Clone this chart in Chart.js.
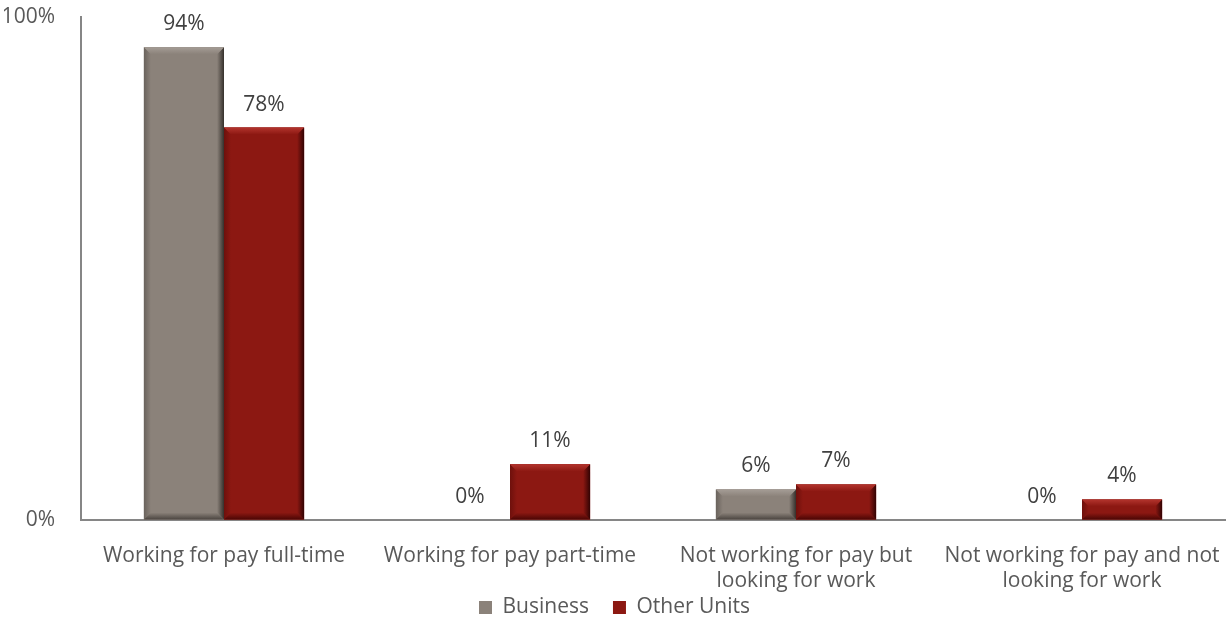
<!DOCTYPE html>
<html>
<head>
<meta charset="utf-8">
<script src="https://cdn.jsdelivr.net/npm/chart.js@4/dist/chart.umd.min.js"></script>
<style>
html,body{margin:0;padding:0;background:#fff;}
#wrap{width:1229px;height:643px;position:relative;}
</style>
</head>
<body>
<div id="wrap"><canvas id="c" width="1229" height="643"></canvas></div>
<script>
const categories = [
  "Working for pay full-time",
  "Working for pay part-time",
  ["Not working for pay but", "looking for work"],
  ["Not working for pay and not", "looking for work"]
];
const businessValues = [94, 0, 6, 0];
const otherUnitsValues = [78, 11, 7, 4];
const yTicks = [0, 100];

const FONT = "'Open Sans', 'Liberation Sans', sans-serif";
const TEXT = '#595959';
const FS = 21;

const palettes = [
  {base:'#8b827a', left:'#6a635d', right:'#35302c', top:'#a59d96', bottom:'#4a443f'},
  {base:'#8c1812', left:'#6e100c', right:'#320303', top:'#b3342d', bottom:'#4a0604'}
];

const bevelPlugin = {
  id:'bevel',
  afterDatasetsDraw(chart){
    const ctx = chart.ctx;
    chart.data.datasets.forEach((ds, di)=>{
      const meta = chart.getDatasetMeta(di);
      const p = palettes[di];
      meta.data.forEach(el=>{
        const {x, y, base, width} = el.getProps(['x','y','base','width'], true);
        const l = x - width/2, r = x + width/2, t = y, b = base;
        const h = b - t;
        if (h < 1) return;
        const bv = Math.min(7, h/3);
        ctx.save();
        ctx.fillStyle = p.base;
        ctx.fillRect(l, t, width, h);
        let g = ctx.createLinearGradient(l,0,l+bv,0);
        g.addColorStop(0, p.left); g.addColorStop(1, p.base);
        ctx.fillStyle = g;
        ctx.beginPath(); ctx.moveTo(l,t); ctx.lineTo(l+bv,t+bv); ctx.lineTo(l+bv,b-bv); ctx.lineTo(l,b); ctx.closePath(); ctx.fill();
        g = ctx.createLinearGradient(r-bv,0,r,0);
        g.addColorStop(0, p.base); g.addColorStop(1, p.right);
        ctx.fillStyle = g;
        ctx.beginPath(); ctx.moveTo(r,t); ctx.lineTo(r-bv,t+bv); ctx.lineTo(r-bv,b-bv); ctx.lineTo(r,b); ctx.closePath(); ctx.fill();
        g = ctx.createLinearGradient(0,t,0,t+bv);
        g.addColorStop(0, p.top); g.addColorStop(1, p.base);
        ctx.fillStyle = g;
        ctx.beginPath(); ctx.moveTo(l,t); ctx.lineTo(r,t); ctx.lineTo(r-bv,t+bv); ctx.lineTo(l+bv,t+bv); ctx.closePath(); ctx.fill();
        g = ctx.createLinearGradient(0,b-bv,0,b);
        g.addColorStop(0, p.base); g.addColorStop(1, p.bottom);
        ctx.fillStyle = g;
        ctx.beginPath(); ctx.moveTo(l,b); ctx.lineTo(l+bv,b-bv); ctx.lineTo(r-bv,b-bv); ctx.lineTo(r,b); ctx.closePath(); ctx.fill();
        ctx.restore();
      });
    });
  },
  afterDraw(chart){
    const ctx = chart.ctx;
    ctx.save();
    ctx.font = FS + "px " + FONT;
    ctx.fillStyle = '#404040';
    ctx.textAlign = 'center';
    ctx.textBaseline = 'middle';
    chart.data.datasets.forEach((ds, di)=>{
      const meta = chart.getDatasetMeta(di);
      meta.data.forEach((el, i)=>{
        const {x, y} = el.getProps(['x','y'], true);
        ctx.fillText(ds.data[i] + '%', x, y - 23);
      });
    });
    ctx.restore();
  }
};

new Chart(document.getElementById('c'), {
  type:'bar',
  data:{
    labels: categories,
    datasets:[
      {label:'Business', data: businessValues, backgroundColor: palettes[0].base, borderWidth:0},
      {label:'Other Units', data: otherUnitsValues, backgroundColor: palettes[1].base, borderWidth:0}
    ]
  },
  plugins:[bevelPlugin],
  options:{
    responsive:false,
    animation:false,
    devicePixelRatio:1,
    layout:{padding:{top:0, right:4, left:4, bottom:15}},
    datasets:{bar:{categoryPercentage:0.56, barPercentage:1.0}},
    scales:{
      x:{
        afterFit(scale){
          scale.paddingLeft = 0; scale.paddingRight = 0; scale.height -= 45;
          scale._computeLabelArea = () => undefined;
        },
        grid:{display:false, drawTicks:false},
        border:{display:true, color:'#868686', width:2},
        ticks:{color:TEXT, font:{family:FONT, size:FS, lineHeight:1.2}, padding:24, maxRotation:0, autoSkip:false}
      },
      y:{
        min:0, max:100,
        afterBuildTicks(scale){ scale.ticks = yTicks.map(v=>({value:v})); },
        afterFit(scale){ scale.width = 77; scale.paddingTop = 17; scale.paddingBottom = 0; },
        grid:{display:false, drawTicks:false},
        border:{display:true, color:'#868686', width:2},
        ticks:{color:TEXT, font:{family:FONT, size:FS}, padding:26, callback:v=>v+'%'}
      }
    },
    plugins:{
      legend:{
        position:'bottom',
        labels:{color:TEXT, font:{family:FONT, size:FS}, boxWidth:13, boxHeight:13, padding:24}
      },
      tooltip:{enabled:false}
    }
  }
});
</script>
</body>
</html>
